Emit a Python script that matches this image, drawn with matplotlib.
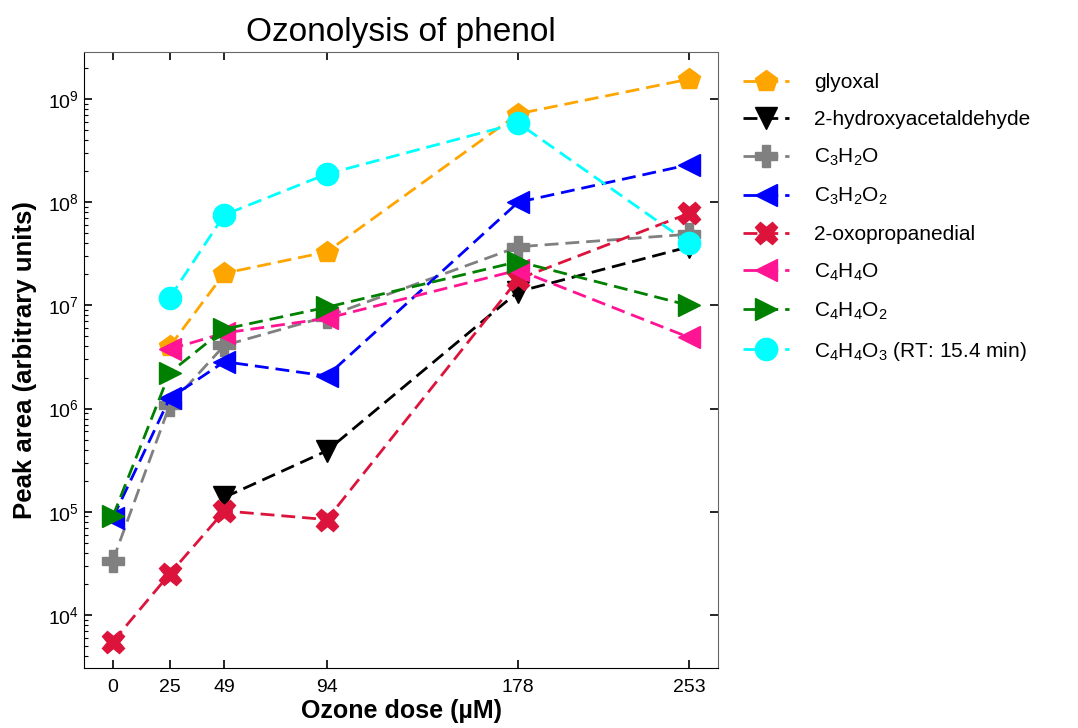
import matplotlib
matplotlib.use('Agg')
import matplotlib.pyplot as plt
import numpy as np

plt.rcParams['font.family'] = ['Liberation Sans', 'DejaVu Sans']
plt.rcParams['mathtext.fontset'] = 'custom'
plt.rcParams['mathtext.rm'] = 'Liberation Sans'
plt.rcParams['mathtext.it'] = 'Liberation Sans:italic'
plt.rcParams['mathtext.bf'] = 'Liberation Sans:bold'

dose = [0, 25, 49, 94, 178, 253]

glyoxal = [np.nan, 4.0e6, 2.05e7, 3.3e7, 7.2e8, 1.56e9]
hydroxyacetaldehyde = [np.nan, np.nan, 1.38e5, 3.9e5, 1.36e7, 3.7e7]
c3h2o = [3.35e4, 1.08e6, 4.1e6, 7.8e6, 3.7e7, 4.9e7]
c3h2o2 = [8.7e4, 1.26e6, 2.85e6, 2.07e6, 1.0e8, 2.31e8]
oxopropanedial = [5.5e3, 2.5e4, 1.02e5, 8.4e4, 1.8e7, 7.8e7]
c4h4o = [np.nan, 3.76e6, 5.4e6, 7.5e6, 2.2e7, 4.9e6]
c4h4o2 = [9.0e4, 2.23e6, 5.9e6, 9.6e6, 2.66e7, 1.0e7]
c4h4o3 = [np.nan, 1.19e7, 7.55e7, 1.88e8, 5.85e8, 4.0e7]

series = [
    (glyoxal, 'glyoxal', 'orange', 'p'),
    (hydroxyacetaldehyde, '2-hydroxyacetaldehyde', 'black', 'v'),
    (c3h2o, 'C$_3$H$_2$O', 'gray', 'P'),
    (c3h2o2, 'C$_3$H$_2$O$_2$', 'blue', '<'),
    (oxopropanedial, '2-oxopropanedial', 'crimson', 'X'),
    (c4h4o, 'C$_4$H$_4$O', 'deeppink', '<'),
    (c4h4o2, 'C$_4$H$_4$O$_2$', 'green', '>'),
    (c4h4o3, 'C$_4$H$_4$O$_3$ (RT: 15.4 min)', 'cyan', 'o'),
]

fig = plt.figure(figsize=(10.78, 7.28), dpi=100)
ax = fig.add_axes([0.078, 0.082, 0.588, 0.847])

for vals, label, color, marker in series:
    x = np.array(dose, dtype=float)
    y = np.array(vals, dtype=float)
    ok = ~np.isnan(y)
    ax.plot(x[ok], y[ok], linestyle='--', color=color, marker=marker,
            markersize=16, linewidth=2, dashes=(5, 2.5), label=label)

ax.set_yscale('log')
ax.set_xlim(-12.6, 265.7)
ax.set_ylim(10**3.483, 10**9.459)
ax.set_xticks(dose)
ax.set_xticklabels([str(d) for d in dose])

ax.tick_params(which='major', direction='in', length=6, width=1.2,
               top=True, right=True, labelsize=14)
ax.tick_params(axis='x', which='major', pad=8)
ax.tick_params(which='minor', direction='in', length=3, width=0.8,
               left=True, right=False)

for side in ['top', 'right']:
    ax.spines[side].set_color('#666666')
for side in ['left', 'bottom']:
    ax.spines[side].set_color('black')

ax.set_title('Ozonolysis of phenol', fontsize=24, pad=8)
ax.set_xlabel('Ozone dose (µM)', fontsize=18, fontweight='bold', labelpad=2)
ax.set_ylabel('Peak area (arbitrary units)', fontsize=18.5, fontweight='bold', labelpad=8)

ax.legend(loc='upper left', bbox_to_anchor=(1.02, 0.985), frameon=False,
          fontsize=15, markerscale=1.0, handlelength=2.2, labelspacing=0.85,
          handletextpad=1.2, borderaxespad=0.2)

fig.savefig('out.png', dpi=100)
